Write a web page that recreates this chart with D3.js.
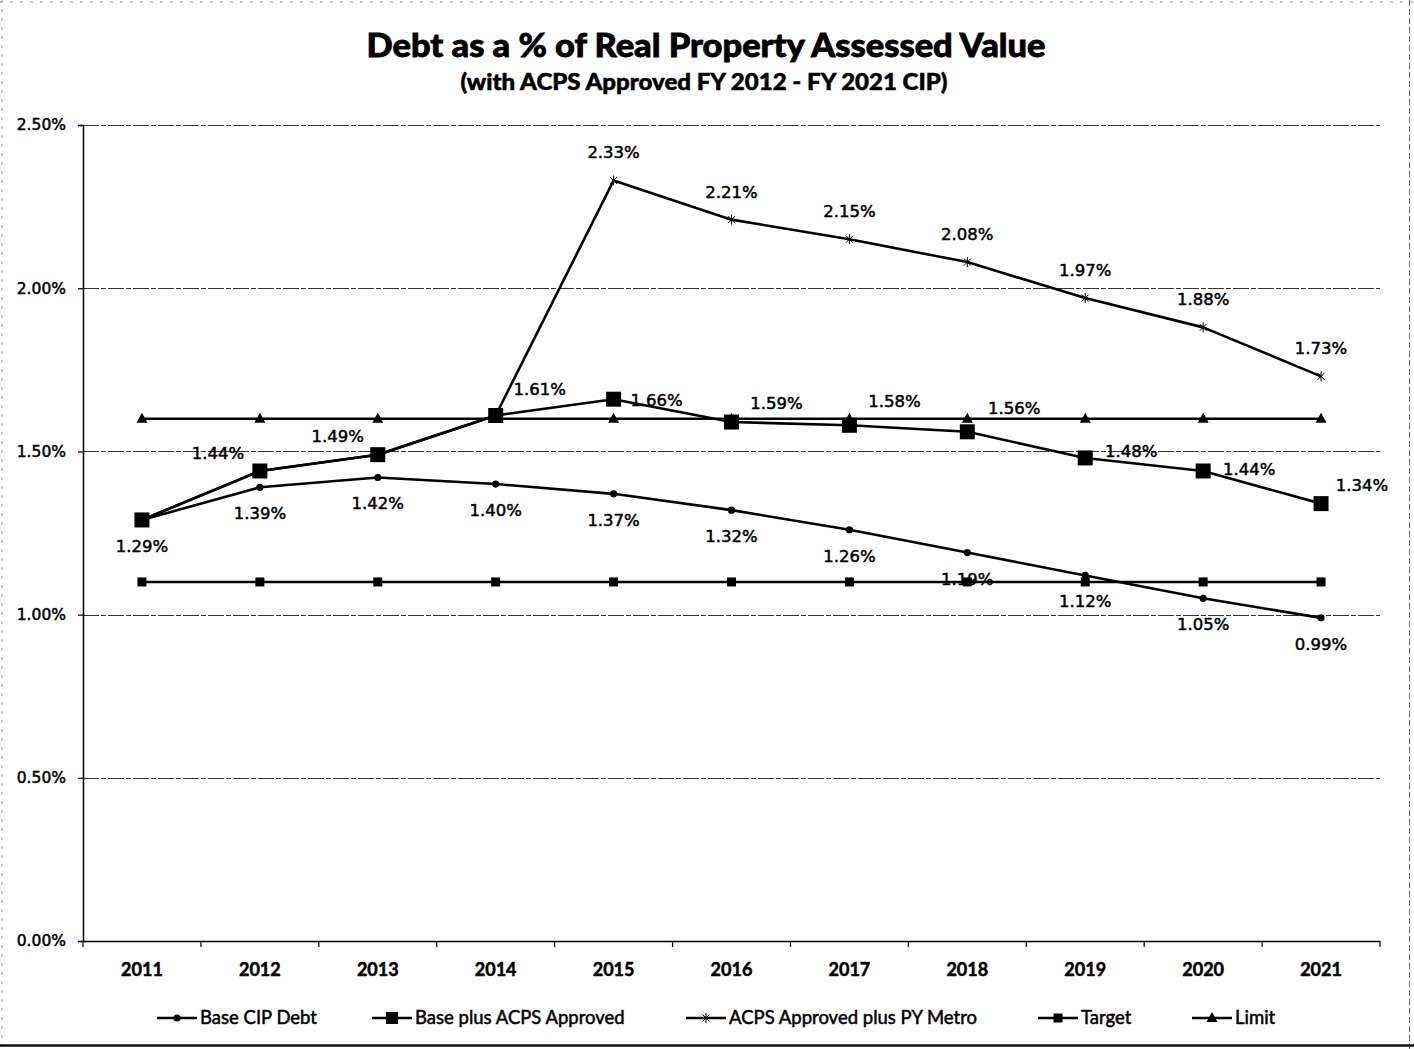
<!DOCTYPE html>
<html>
<head>
<meta charset="utf-8">
<script src="https://cdn.jsdelivr.net/npm/d3@7"></script>
<style>
  html, body { margin: 0; padding: 0; background: #fff; }
  svg { display: block; }
</style>
</head>
<body>
<svg id="chart" width="1414" height="1049"></svg>
<script>
// Fiscal years on the x axis
const years = ["2011","2012","2013","2014","2015","2016","2017","2018","2019","2020","2021"];

// Debt as a percent of real property assessed value
const baseCipDebt      = [1.29, 1.39, 1.42, 1.40, 1.37, 1.32, 1.26, 1.19, 1.12, 1.05, 0.99];
const basePlusAcps     = [1.29, 1.44, 1.49, 1.61, 1.66, 1.59, 1.58, 1.56, 1.48, 1.44, 1.34];
const acpsPlusPyMetro  = [1.29, 1.44, 1.49, 1.61, 2.33, 2.21, 2.15, 2.08, 1.97, 1.88, 1.73];
const target           = [1.10, 1.10, 1.10, 1.10, 1.10, 1.10, 1.10, 1.10, 1.10, 1.10, 1.10];
const limit            = [1.60, 1.60, 1.60, 1.60, 1.60, 1.60, 1.60, 1.60, 1.60, 1.60, 1.60];

// Y axis ticks (percent)
const yTicks = [0, 0.5, 1.0, 1.5, 2.0, 2.5];

const seriesNames = ["Base CIP Debt", "Base plus ACPS Approved", "ACPS Approved plus PY Metro", "Target", "Limit"];

// Hand placement of the "Base plus ACPS Approved" labels so they clear the other lines
const acpsLabelShift = [null, [-42,-18], [-40,-19], [44,-26], [43,1], [45,-19], [45,-24], [47,-24], [46,-7], [46,-2], [41,-19]];

const svg = d3.select("#chart");
const W = 1414, H = 1049;
const plot = { left: 83, right: 1380, top: 125, bottom: 941 };

const x = d3.scalePoint().domain(years).range([plot.left, plot.right]).padding(0.5);
const y = d3.scaleLinear().domain([0, 2.5]).range([plot.bottom, plot.top]);
const step = x.step();

const fmt = v => v.toFixed(2) + "%";
const labelFont = "'DejaVu Sans', Verdana, sans-serif";
const calibriLike = "Lato, 'Open Sans', sans-serif";

// Slightly heavier text strokes
const heavy = (sel, w) => sel.attr("stroke", "#000").attr("stroke-width", w).attr("paint-order", "stroke");

// Page frame
svg.append("line").attr("x1", 2).attr("x2", 2).attr("y1", 0).attr("y2", H)
  .attr("stroke", "#999").attr("stroke-width", 1).attr("stroke-dasharray", "3 6");
svg.append("line").attr("x1", 0).attr("x2", W).attr("y1", 2).attr("y2", 2)
  .attr("stroke", "#999").attr("stroke-width", 1).attr("stroke-dasharray", "3 7");
svg.append("line").attr("x1", 1409.5).attr("x2", 1409.5).attr("y1", 0).attr("y2", H)
  .attr("stroke", "#666").attr("stroke-width", 1).attr("stroke-dasharray", "6 3");
svg.append("line").attr("x1", 0).attr("x2", W).attr("y1", 1045.5).attr("y2", 1045.5)
  .attr("stroke", "#111").attr("stroke-width", 2.5);

// Titles
heavy(svg.append("text").attr("x", 706).attr("y", 57).attr("text-anchor", "middle")
  .attr("font-family", calibriLike).attr("font-weight", 900).attr("font-size", 33)
  .attr("textLength", 679).attr("lengthAdjust", "spacingAndGlyphs")
  .text("Debt as a % of Real Property Assessed Value"), 0.8);
heavy(svg.append("text").attr("x", 704).attr("y", 90).attr("text-anchor", "middle")
  .attr("font-family", calibriLike).attr("font-weight", 900).attr("font-size", 22)
  .attr("textLength", 487).attr("lengthAdjust", "spacingAndGlyphs")
  .text("(with ACPS Approved FY 2012 - FY 2021 CIP)"), 0.5);

// Horizontal gridlines
svg.append("g").selectAll("line").data(yTicks.filter(t => t > 0)).join("line")
  .attr("x1", plot.left).attr("x2", plot.right)
  .attr("y1", d => Math.round(y(d)) + 0.5).attr("y2", d => Math.round(y(d)) + 0.5)
  .attr("stroke", "#333").attr("stroke-width", 1.2).attr("stroke-dasharray", "16 2 5 2");

// Y axis
const yAxis = d3.axisLeft(y).tickValues(yTicks).tickFormat(fmt).tickSize(5).tickPadding(12);
const gy = svg.append("g").attr("transform", `translate(${plot.left},0)`).call(yAxis);
gy.select(".domain").attr("stroke", "#000").attr("stroke-width", 1.5);
gy.selectAll(".tick line").attr("stroke", "#000").attr("stroke-width", 1.2);
heavy(gy.selectAll(".tick text").attr("font-family", labelFont).attr("font-size", 15.5)
  .attr("fill", "#000").attr("x", -17), 0.5);

// X axis with tick marks on the category boundaries
svg.append("line").attr("x1", plot.left).attr("x2", plot.right)
  .attr("y1", plot.bottom + 0.5).attr("y2", plot.bottom + 0.5)
  .attr("stroke", "#000").attr("stroke-width", 1.5);
const boundaries = d3.range(years.length + 1).map(i => plot.left + i * step);
svg.append("g").selectAll("line").data(boundaries).join("line")
  .attr("x1", d => d).attr("x2", d => d)
  .attr("y1", plot.bottom).attr("y2", plot.bottom + 6)
  .attr("stroke", "#000").attr("stroke-width", 1.2);
heavy(svg.append("g").selectAll("text").data(years).join("text")
  .attr("x", d => x(d)).attr("y", 976).attr("text-anchor", "middle")
  .attr("font-family", calibriLike).attr("font-weight", 700).attr("font-size", 18)
  .text(d => d), 0.5);

// Marker drawers
const markers = {
  circle: (g, s) => g.append("circle").attr("r", 3.6 * s).attr("fill", "#000"),
  bigSquare: (g, s) => g.append("rect").attr("x", -7.5 * s).attr("y", -7.5 * s)
    .attr("width", 15 * s).attr("height", 15 * s).attr("fill", "#000"),
  star: (g, s) => g.append("path")
    .attr("d", `M${-3.5*s},${-3.5*s}L${3.5*s},${3.5*s}M${-3.5*s},${3.5*s}L${3.5*s},${-3.5*s}M0,${-5*s}L0,${5*s}`)
    .attr("stroke", "#000").attr("stroke-width", 1).attr("fill", "none"),
  smallSquare: (g, s) => g.append("rect").attr("x", -4.5 * s).attr("y", -4.5 * s)
    .attr("width", 9 * s).attr("height", 9 * s).attr("fill", "#000"),
  triangle: (g, s) => g.append("path")
    .attr("d", `M0,${-6*s}L${5.5*s},${4*s}L${-5.5*s},${4*s}Z`).attr("fill", "#000")
};

const series = [
  { name: seriesNames[3], values: target, marker: "smallSquare" },
  { name: seriesNames[4], values: limit, marker: "triangle" },
  { name: seriesNames[0], values: baseCipDebt, marker: "circle" },
  { name: seriesNames[2], values: acpsPlusPyMetro, marker: "star" },
  { name: seriesNames[1], values: basePlusAcps, marker: "bigSquare" }
];

const line = d3.line().x((d, i) => x(years[i])).y(d => y(d));

series.forEach(s => {
  const g = svg.append("g");
  g.append("path").datum(s.values).attr("d", line)
    .attr("fill", "none").attr("stroke", "#000").attr("stroke-width", 2.6)
    .attr("stroke-linejoin", "round");
  s.values.forEach((v, i) => {
    const m = g.append("g").attr("transform", `translate(${x(years[i])},${y(v)})`);
    markers[s.marker](m, 1);
  });
});

// Data labels
const labels = svg.append("g").attr("font-family", labelFont).attr("font-size", 16.5)
  .attr("text-anchor", "middle").attr("fill", "#000")
  .attr("stroke", "#000").attr("stroke-width", 0.5);

baseCipDebt.forEach((v, i) => {
  labels.append("text").attr("x", x(years[i])).attr("y", y(v) + 26)
    .attr("dy", "0.36em").text(fmt(v));
});
acpsPlusPyMetro.forEach((v, i) => {
  if (i < 4) return; // same values as Base plus ACPS Approved here
  labels.append("text").attr("x", x(years[i])).attr("y", y(v) - 28)
    .attr("dy", "0.36em").text(fmt(v));
});
basePlusAcps.forEach((v, i) => {
  const sh = acpsLabelShift[i];
  if (!sh) return;
  labels.append("text").attr("x", x(years[i]) + sh[0]).attr("y", y(v) + sh[1])
    .attr("dy", "0.36em").text(fmt(v));
});

// Legend
const legendItems = [
  { name: seriesNames[0], marker: "circle", x0: 157 },
  { name: seriesNames[1], marker: "bigSquare", x0: 372 },
  { name: seriesNames[2], marker: "star", x0: 686 },
  { name: seriesNames[3], marker: "smallSquare", x0: 1038 },
  { name: seriesNames[4], marker: "triangle", x0: 1192 }
];
const ly = 1018;
const lg = svg.append("g");
legendItems.forEach(it => {
  lg.append("line").attr("x1", it.x0).attr("x2", it.x0 + 40).attr("y1", ly).attr("y2", ly)
    .attr("stroke", "#000").attr("stroke-width", 2.6);
  const m = lg.append("g").attr("transform", `translate(${it.x0 + 20},${ly})`);
  markers[it.marker](m, it.marker === "bigSquare" ? 0.8 : 1);
  heavy(lg.append("text").attr("x", it.x0 + 43).attr("y", ly).attr("dy", "0.35em")
    .attr("font-family", calibriLike).attr("font-size", 18.5).attr("fill", "#000")
    .text(it.name), 0.5);
});
</script>
</body>
</html>
